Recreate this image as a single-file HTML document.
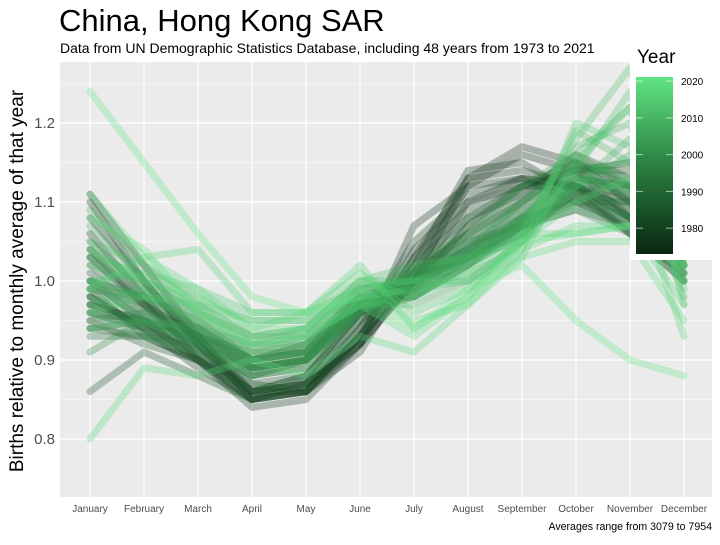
<!DOCTYPE html>
<html><head><meta charset="utf-8"><style>
body{margin:0;background:#fff;font-family:"Liberation Sans",sans-serif}
svg text{font-family:"Liberation Sans",sans-serif}
</style></head><body>
<svg id="c" width="720" height="540" viewBox="0 0 720 540">
<defs><linearGradient id="g" x1="0" y1="1" x2="0" y2="0">
<stop offset="0" stop-color="#0a2611"/><stop offset="0.5" stop-color="#2a8040"/><stop offset="1" stop-color="#60e482"/></linearGradient></defs>
<rect x="60" y="62" width="652" height="435" fill="#ebebeb"/>
<g id="grid"></g><g id="lines"></g><g id="axes"></g>
<text x="59" y="31" font-size="31" fill="#000">China, Hong Kong SAR</text>
<text x="60" y="53" font-size="14" fill="#000">Data from UN Demographic Statistics Database, including 48 years from 1973 to 2021</text>
<text transform="translate(23,281) rotate(-90)" text-anchor="middle" font-size="19" fill="#000">Births relative to monthly average of that year</text>
<text x="712" y="530" text-anchor="end" font-size="10.6" fill="#000">Averages range from 3079 to 7954</text>
<g>
<rect x="630" y="40" width="90" height="220" fill="#fff"/>
<text x="637" y="63" font-size="19" fill="#000">Year</text>
<rect x="636" y="77" width="37" height="177" fill="url(#g)"/>
<g id="leg"></g>
</g>
</svg>
<script>
const months=["January","February","March","April","May","June","July","August","September","October","November","December"];
const yTicks=[0.8,0.9,1.0,1.1,1.2];
const legendYears=[1980,1990,2000,2010,2020];
const years=[];for(let y=1973;y<=2021;y++)years.push(y);
const series=[
[1.04,0.97,0.93,0.86,0.87,0.92,1.00,1.10,1.13,1.12,1.06,1.01],
[1.10,1.00,0.92,0.85,0.86,0.93,1.01,1.12,1.16,1.14,1.08,1.02],
[1.11,1.02,0.93,0.85,0.86,0.92,1.00,1.13,1.17,1.15,1.10,1.05],
[1.08,1.00,0.92,0.86,0.86,0.91,1.02,1.14,1.15,1.11,1.06,1.00],
[1.06,0.98,0.90,0.84,0.85,0.92,1.03,1.13,1.14,1.12,1.08,1.02],
[1.03,0.97,0.91,0.86,0.87,0.92,1.07,1.12,1.13,1.10,1.07,1.05],
[1.00,0.95,0.90,0.85,0.87,0.93,1.04,1.10,1.12,1.12,1.09,1.06],
[0.98,0.94,0.89,0.85,0.86,0.94,1.05,1.11,1.13,1.12,1.10,1.06],
[0.97,0.95,0.90,0.85,0.86,0.93,1.03,1.09,1.12,1.15,1.12,1.08],
[0.99,0.93,0.90,0.86,0.87,0.94,1.02,1.08,1.11,1.16,1.13,1.07],
[1.01,0.96,0.92,0.87,0.86,0.93,1.00,1.07,1.12,1.14,1.10,1.04],
[0.96,0.94,0.91,0.86,0.88,0.95,1.01,1.06,1.10,1.15,1.12,1.06],
[0.94,0.93,0.90,0.87,0.88,0.96,0.99,1.07,1.11,1.14,1.14,1.08],
[0.86,0.91,0.88,0.85,0.87,0.95,1.00,1.08,1.12,1.14,1.15,1.10],
[0.95,0.92,0.90,0.86,0.88,0.96,1.01,1.06,1.10,1.13,1.12,1.08],
[0.98,0.94,0.91,0.88,0.89,0.96,1.00,1.05,1.09,1.12,1.11,1.07],
[1.02,0.97,0.93,0.89,0.90,0.96,0.99,1.04,1.08,1.11,1.08,1.03],
[0.97,0.95,0.92,0.88,0.90,0.97,1.00,1.05,1.07,1.10,1.10,1.05],
[1.00,0.98,0.94,0.90,0.91,0.96,0.98,1.03,1.07,1.12,1.08,1.02],
[0.99,0.97,0.93,0.89,0.90,0.97,0.99,1.04,1.08,1.10,1.07,1.03],
[0.93,0.93,0.92,0.89,0.90,0.98,1.00,1.04,1.07,1.11,1.08,1.04],
[0.96,0.95,0.93,0.90,0.91,0.98,1.00,1.03,1.06,1.12,1.09,1.03],
[1.03,0.98,0.94,0.89,0.91,0.97,0.99,1.03,1.07,1.09,1.07,1.01],
[0.95,0.96,0.94,0.90,0.92,0.97,0.98,1.02,1.08,1.10,1.08,1.03],
[0.97,0.94,0.93,0.91,0.91,0.99,1.00,1.03,1.06,1.11,1.10,1.05],
[1.05,0.99,0.95,0.90,0.92,0.98,0.98,1.02,1.07,1.09,1.06,1.00],
[0.94,0.95,0.92,0.89,0.90,0.97,1.01,1.04,1.09,1.13,1.11,1.06],
[0.91,0.95,0.93,0.90,0.91,0.97,1.00,1.03,1.08,1.13,1.12,1.07],
[0.98,0.96,0.93,0.88,0.90,0.96,1.01,1.05,1.10,1.14,1.11,1.04],
[1.00,0.95,0.92,0.89,0.90,0.96,1.00,1.04,1.10,1.15,1.13,1.06],
[0.96,0.93,0.91,0.88,0.89,0.97,1.02,1.06,1.12,1.16,1.12,1.05],
[1.04,0.99,0.94,0.90,0.91,0.97,0.99,1.03,1.08,1.12,1.12,1.03],
[0.99,0.98,0.95,0.91,0.92,0.98,1.00,1.03,1.08,1.14,1.15,1.05],
[1.07,1.00,0.96,0.92,0.92,0.97,0.98,1.02,1.07,1.13,1.12,1.00],
[0.94,0.95,0.94,0.92,0.93,0.99,1.00,1.02,1.06,1.12,1.16,1.05],
[1.09,1.02,0.97,0.93,0.93,0.97,0.97,1.00,1.05,1.12,1.18,1.02],
[1.00,0.98,0.95,0.91,0.93,0.99,1.01,1.03,1.07,1.17,1.20,1.01],
[0.97,0.99,0.96,0.93,0.94,1.00,1.02,1.03,1.05,1.15,1.22,1.00],
[1.03,1.01,0.96,0.92,0.94,1.00,1.00,1.02,1.06,1.19,1.15,0.98],
[1.02,1.00,0.97,0.93,0.94,0.98,0.99,1.01,1.06,1.18,1.27,1.02],
[1.05,1.02,0.98,0.95,0.95,0.98,0.99,1.00,1.05,1.14,1.24,0.97],
[1.00,1.01,0.99,0.96,0.96,0.99,1.00,1.00,1.03,1.16,1.22,1.02],
[0.96,0.98,0.97,0.95,0.95,1.00,0.98,1.01,1.04,1.20,1.17,0.99],
[1.04,1.00,0.98,0.94,0.96,1.01,0.96,0.99,1.05,1.10,1.13,0.93],
[0.99,1.03,1.04,0.96,0.96,1.02,0.94,0.98,1.06,1.06,1.07,0.97],
[0.80,0.89,0.88,0.90,0.88,0.93,0.91,0.97,1.04,1.07,1.07,1.02],
[1.11,1.03,0.99,0.94,0.94,0.99,0.95,0.97,1.03,1.05,1.05,0.95],
[1.08,1.04,0.96,0.92,0.93,0.97,0.93,0.98,1.05,1.06,1.07,1.03],
[1.24,1.15,1.06,0.98,0.96,0.98,0.94,0.99,1.02,0.95,0.90,0.88]
];
const NS="http://www.w3.org/2000/svg";
const X0=90,XS=54,Y1=281,YS=790;
const xS=i=>X0+i*XS, yS=v=>Y1-(v-1)*YS;
const yrY=y=>253.9-(y-1973)*(176.5/48);
function col(y){const t=(y-1973)/48;const a=[10,38,17],b=[42,128,64],c=[96,228,130];let p,q,u;if(t<0.5){p=a;q=b;u=t*2}else{p=b;q=c;u=(t-0.5)*2}return`rgb(${p.map((v,i)=>Math.round(v+(q[i]-v)*u)).join(",")})`}
const grid=document.getElementById("grid"),axes=document.getElementById("axes"),lines=document.getElementById("lines"),leg=document.getElementById("leg");
for(let v=0.85;v<1.3;v+=0.1){const l=document.createElementNS(NS,"line");l.setAttribute("x1",60);l.setAttribute("x2",712);l.setAttribute("y1",yS(v));l.setAttribute("y2",yS(v));l.setAttribute("stroke","#fff");l.setAttribute("stroke-width","0.6");


grid.appendChild(l);}
yTicks.forEach(v=>{const l=document.createElementNS(NS,"line");l.setAttribute("x1",60);l.setAttribute("x2",712);l.setAttribute("y1",yS(v));l.setAttribute("y2",yS(v));l.setAttribute("stroke","#fff");l.setAttribute("stroke-width","1.2");


grid.appendChild(l);
const t=document.createElementNS(NS,"text");t.setAttribute("x",55);t.setAttribute("y",yS(v)+5);t.setAttribute("text-anchor","end");t.setAttribute("font-size","15");t.setAttribute("fill","#4d4d4d");t.textContent=v.toFixed(1);


axes.appendChild(t);});
months.forEach((m,i)=>{const l=document.createElementNS(NS,"line");l.setAttribute("x1",xS(i));l.setAttribute("x2",xS(i));l.setAttribute("y1",62);l.setAttribute("y2",497);l.setAttribute("stroke","#fff");l.setAttribute("stroke-width","1.2");


grid.appendChild(l);
const t=document.createElementNS(NS,"text");t.setAttribute("x",xS(i));t.setAttribute("y",512);t.setAttribute("text-anchor","middle");t.setAttribute("font-size","10");t.setAttribute("fill","#4d4d4d");t.textContent=m;


axes.appendChild(t);});
series.forEach((s,k)=>{const p=document.createElementNS(NS,"polyline");p.setAttribute("points",s.map((v,i)=>xS(i)+","+yS(v)).join(" "));p.setAttribute("fill","none");p.setAttribute("stroke",col(years[k]));p.setAttribute("stroke-opacity","0.3");p.setAttribute("stroke-width","7");p.setAttribute("stroke-linejoin","round");p.setAttribute("stroke-linecap","round");


lines.appendChild(p);});
legendYears.forEach(y=>{const t=document.createElementNS(NS,"text");t.setAttribute("x",681);t.setAttribute("y",yrY(y)+4);t.setAttribute("font-size","10");t.setAttribute("fill","#000");t.textContent=y;


leg.appendChild(t);
[[636,643],[666,673]].forEach(([a,b])=>{const l=document.createElementNS(NS,"line");l.setAttribute("x1",a);l.setAttribute("x2",b);l.setAttribute("y1",yrY(y));l.setAttribute("y2",yrY(y));l.setAttribute("stroke","#fff");l.setAttribute("stroke-opacity","0.6");


leg.appendChild(l);});});
</script>
</body></html>
